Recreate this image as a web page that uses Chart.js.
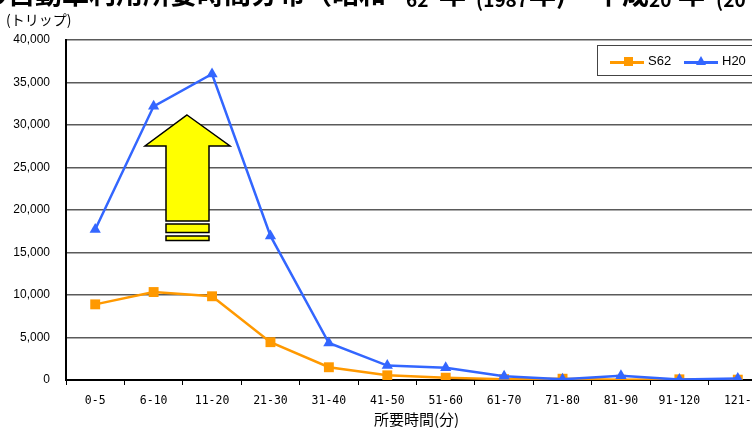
<!DOCTYPE html>
<html>
<head>
<meta charset="utf-8">
<script src="https://cdn.jsdelivr.net/npm/chart.js@4.4.0/dist/chart.umd.min.js"></script>
<style>
html, body { margin: 0; padding: 0; background: #fff; overflow: hidden; }
#wrap { position: relative; width: 752px; height: 428px; overflow: hidden; }
#box { position: absolute; left: 0; top: 0; width: 790px; height: 428px; }
.t { position: absolute; top: -21px; font: bold 27px "Noto Sans CJK JP"; line-height: 27px; white-space: nowrap; color: #000; }
.d { font-size: 19px; top: -15px; }
#unit { position: absolute; left: 6px; top: 10px; font: 14px "Noto Sans CJK JP"; line-height: 18px; color: #000; }
#legend { position: absolute; left: 597px; top: 45px; width: 170px; height: 31px; border: 1px solid #444; background: #fff; box-sizing: border-box; }
#legend .ln { position: absolute; top: 15px; width: 34px; height: 2.5px; }
#legend .sq { position: absolute; top: 11px; width: 9px; height: 9px; background: #FF9900; }
#legend .tri { position: absolute; top: 10px; width: 0; height: 0; border-left: 5px solid transparent; border-right: 5px solid transparent; border-bottom: 9px solid #3366FF; }
#legend .lb { position: absolute; top: 7px; font: 13px "Liberation Sans"; line-height: 16px; color: #000; }
#arrow { position: absolute; left: 0; top: 0; pointer-events: none; }
</style>
</head>
<body>
<div id="wrap">
  <div id="box"><canvas id="chart"></canvas></div>

  <span class="t" style="left:-19px">の自動車利用所要時間分布（昭和</span>
  <span class="t d" style="left:406px">62</span>
  <span class="t" style="left:439px">年</span>
  <span class="t d" style="left:476px">(1987</span>
  <span class="t" style="left:529px">年)</span>
  <span class="t" style="left:568px">～平成</span>
  <span class="t d" style="left:649px">20</span>
  <span class="t" style="left:678px">年</span>
  <span class="t d" style="left:716px">(20</span>

  <div id="unit">(トリップ)</div>

  <svg id="arrow" width="752" height="428">
    <polygon points="187,115 230,146 209,146 209,221 166,221 166,146 145,146"
             fill="#FFFF00" stroke="#000" stroke-width="1.5"/>
    <rect x="166" y="224" width="43" height="8.5" fill="#FFFF00" stroke="#000" stroke-width="1.5"/>
    <rect x="166" y="236" width="43" height="4.5" fill="#FFFF00" stroke="#000" stroke-width="1.5"/>
  </svg>

  <div id="legend">
    <div class="ln" style="left:12px;background:#FF9900"></div>
    <div class="sq" style="left:26px"></div>
    <div class="lb" style="left:50px">S62</div>
    <div class="ln" style="left:86px;background:#3366FF"></div>
    <div class="tri" style="left:98px"></div>
    <div class="lb" style="left:124px">H20</div>
  </div>
</div>

<script>
// Travel time categories (minutes)
const categories = ['0-5', '6-10', '11-20', '21-30', '31-40', '41-50', '51-60', '61-70', '71-80', '81-90', '91-120', '121-'];

// Trips per category
const s62Trips = [8900, 10350, 9850, 4450, 1500, 550, 270, 100, 150, 30, 80, 40];
const h20Trips = [17700, 32200, 36000, 16950, 4350, 1700, 1450, 450, 80, 500, 50, 180];

// Y axis range
const yMin = 0;
const yMax = 40000;
const yStep = 5000;

const ctx = document.getElementById('chart').getContext('2d');
const tripChart = new Chart(ctx, {
    type: 'line',
    data: {
        labels: categories,
        datasets: [
            {
                label: 'S62',
                data: s62Trips,
                borderColor: '#FF9900',
                backgroundColor: '#FF9900',
                borderWidth: 2.5,
                pointStyle: 'rect',
                pointRadius: 7,
                pointBorderWidth: 0,
                tension: 0,
                order: 2
            },
            {
                label: 'H20',
                data: h20Trips,
                borderColor: '#3366FF',
                backgroundColor: '#3366FF',
                borderWidth: 2.5,
                pointStyle: 'triangle',
                pointRadius: 6.5,
                pointBorderWidth: 0,
                tension: 0,
                order: 1
            }
        ]
    },
    options: {
        responsive: true,
        maintainAspectRatio: false,
        animation: false,
        layout: {
            padding: { top: 40, right: 23, left: 0, bottom: 0 }
        },
        scales: {
            x: {
                offset: true,
                afterFit: (scale) => { scale.height = 48; },
                grid: {
                    offset: true,
                    drawOnChartArea: false,
                    drawTicks: true,
                    tickLength: 5,
                    color: '#000',
                    lineWidth: 1
                },
                border: { color: '#000', width: 2 },
                ticks: {
                    color: '#000',
                    padding: 9,
                    maxRotation: 0,
                    autoSkip: false,
                    font: { family: 'DejaVu Sans Mono', size: 11.5 }
                },
                title: {
                    display: true,
                    text: '所要時間(分)',
                    color: '#000',
                    padding: { top: 0, bottom: 0 },
                    font: { family: 'Noto Sans CJK JP', size: 15 }
                }
            },
            y: {
                min: yMin,
                max: yMax,
                afterFit: (scale) => { scale.width = 66; },
                grid: {
                    color: '#5a5a5a',
                    lineWidth: 1.5,
                    drawTicks: false
                },
                border: { color: '#000', width: 2 },
                ticks: {
                    stepSize: yStep,
                    color: '#000',
                    padding: 16,
                    font: { family: 'Liberation Sans', size: 12 },
                    callback: (v) => v.toLocaleString('en-US')
                }
            }
        },
        plugins: {
            legend: { display: false },
            tooltip: { enabled: false }
        }
    }
});
</script>
</body>
</html>
